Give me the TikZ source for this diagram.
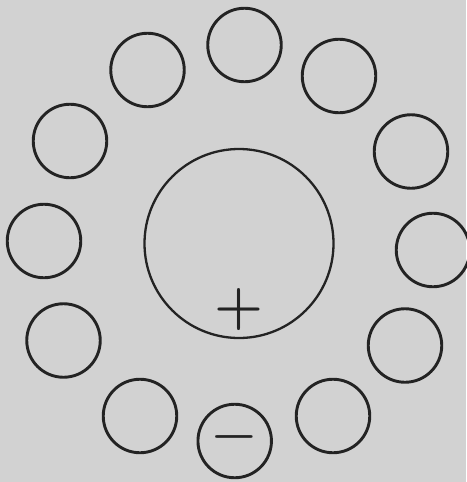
\documentclass[tikz,border=0pt]{standalone}
\usepackage{fontspec}
\begin{document}
\begin{tikzpicture}[x=1pt,y=-1pt,
  ring/.style={circle, draw=ink, line width=2.9pt, minimum size=73.5pt, inner sep=0pt},
  bigring/.style={circle, draw=ink, line width=2.3pt, minimum size=189pt, inner sep=0pt},
  sign/.style={inner sep=0pt, text=ink, font=\fontsize{56}{56}\selectfont\bfseries}]
\definecolor{paper}{RGB}{210,210,210}
\definecolor{ink}{RGB}{35,35,35}
\fill[paper] (0,0) rectangle (466,482);
\useasboundingbox (0,0) rectangle (466,482);
\node[bigring] (big) at (239,243.5) {};
\node[ring] (c1) at (244.5,45) {};
\node[ring] (c2) at (339,76) {};
\node[ring] (c3) at (411,151.5) {};
\node[ring] (c4) at (433,250) {};
\node[ring] (c5) at (405,345.5) {};
\node[ring] (c6) at (333,416) {};
\node[ring] (c7) at (234.7,441) {};
\node[ring] (c8) at (140,416) {};
\node[ring] (c9) at (63.5,340.5) {};
\node[ring] (c10) at (44,241) {};
\node[ring] (c11) at (70,141) {};
\node[ring] (c12) at (147.5,70) {};
\node[sign] (plus) at (238.5,310) {+};
\node[sign, font=\fontsize{50}{50}\selectfont\bfseries] (minus) at (234.5,443) {−};
\end{tikzpicture}
\end{document}
